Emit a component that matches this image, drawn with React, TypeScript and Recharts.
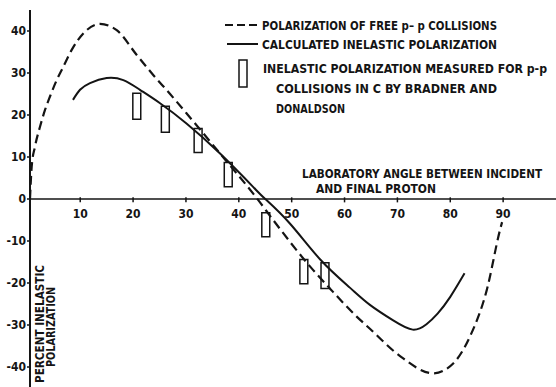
import React from 'react';
import {
  ComposedChart,
  Line,
  XAxis,
  YAxis,
  ReferenceLine,
  ReferenceArea,
  Legend,
} from 'recharts';

// polarization of free p-p collisions (dashed)
const freeAngle = [0.5, 0.82, 1.45, 2.39, 3.34, 4.28, 5.55, 6.8, 8.39, 10.58, 13.74, 16.9, 20.69, 23.5, 27, 30.1, 33.3, 36.4, 39.6, 43.4, 46.5, 53.5, 57.3, 62.3, 64.8, 70.5, 76.8, 80.6, 83.7, 86.9, 89.4, 89.8];
const freePol = [0, 7.7, 12.5, 17.2, 21.2, 24.4, 28.3, 31.5, 35.5, 39.4, 41.7, 40.2, 34.3, 30.0, 25.0, 20.4, 15.6, 10.9, 6.1, 0.2, -5.0, -16.1, -21.4, -28, -30.9, -37.4, -41.5, -39.1, -32.8, -21.7, -7.4, -5.5];

// calculated inelastic polarization (solid)
const calcAngle = [8.63, 9.96, 11.85, 15.0, 18.15, 21.3, 25.1, 30.1, 36.4, 42.7, 45.0, 49.7, 55.4, 61.0, 64.8, 69.2, 72.9, 75.5, 77.6, 80, 82.7];
const calcPol = [23.6, 26, 27.6, 28.8, 28.3, 26, 22.8, 18.0, 10.9, 2.9, 0, -5.9, -14.4, -21.1, -25.2, -28.9, -31.1, -29.8, -27.3, -23.3, -17.7];

// measured (Bradner and Donaldson) boxes
const measAngle = [20.7, 26.1, 32.3, 38.0, 45.1, 52.3, 56.3];
const measLow = [19.0, 15.9, 11.1, 2.9, -9.0, -20.2, -21.3];
const measHigh = [25.2, 22.1, 16.8, 8.7, -3.3, -14.4, -15.2];
const BOX_HALF = 0.75;

const xTicks = [10, 20, 30, 40, 50, 60, 70, 80, 90];
const yTicks = [-40, -30, -20, -10, 0, 10, 20, 30, 40];

const legendLabels = [
  'POLARIZATION OF FREE p\u2013 p  COLLISIONS',
  'CALCULATED INELASTIC POLARIZATION',
  'INELASTIC  POLARIZATION  MEASURED FOR p-p',
  'COLLISIONS IN C  BY BRADNER AND',
  'DONALDSON',
];
const xTitle = ['LABORATORY ANGLE BETWEEN INCIDENT', 'AND FINAL PROTON'];
const yTitle = ['PERCENT INELASTIC', 'POLARIZATION'];

const freeData = freeAngle.map((a, i) => ({ angle: a, pol: freePol[i] }));
const calcData = calcAngle.map((a, i) => ({ angle: a, pol: calcPol[i] }));

const INK = '#141414';
const FONT = '"DejaVu Sans Condensed", "DejaVu Sans", sans-serif';

const txt = {
  fill: INK,
  fontFamily: FONT,
  fontWeight: 'bold' as const,
  fontSize: 13,
};

const renderLegend = () => (
  <svg width={556} height={130} style={{ display: 'block' }}>
    <line x1={225} y1={25} x2={258} y2={25} stroke={INK} strokeWidth={2} strokeDasharray="8 4" />
    <text x={262} y={25} dominantBaseline="central" textLength={235} lengthAdjust="spacingAndGlyphs" {...txt}>
      {legendLabels[0]}
    </text>
    <line x1={227} y1={44} x2={258} y2={44} stroke={INK} strokeWidth={2} />
    <text x={262} y={44} dominantBaseline="central" textLength={235} lengthAdjust="spacingAndGlyphs" {...txt}>
      {legendLabels[1]}
    </text>
    <rect x={239} y={60} width={8} height={27} fill="none" stroke={INK} strokeWidth={1.5} />
    <text x={263} y={68} dominantBaseline="central" textLength={284} lengthAdjust="spacingAndGlyphs" {...txt}>
      {legendLabels[2]}
    </text>
    <text x={276} y={88} dominantBaseline="central" textLength={221} lengthAdjust="spacingAndGlyphs" {...txt}>
      {legendLabels[3]}
    </text>
    <text x={276} y={108} dominantBaseline="central" textLength={69} lengthAdjust="spacingAndGlyphs" {...txt}>
      {legendLabels[4]}
    </text>
  </svg>
);

const XTitle = (props: any) => {
  const { x, y } = props.viewBox;
  return (
    <g>
      <text x={x + 272} y={y - 26} dominantBaseline="central" textLength={240} lengthAdjust="spacingAndGlyphs" {...txt}>
        {xTitle[0]}
      </text>
      <text x={x + 286} y={y - 11} dominantBaseline="central" textLength={120} lengthAdjust="spacingAndGlyphs" {...txt}>
        {xTitle[1]}
      </text>
    </g>
  );
};

const YTitle = (props: any) => {
  const { x, y, width, height } = props.viewBox;
  const left = x + width;
  const bottom = y + height;
  const x1 = left + 9.5;
  const y1 = bottom - 4;
  const x2 = left + 20;
  const y2 = bottom - 20;
  return (
    <g>
      <text x={x1} y={y1} transform={`rotate(-90, ${x1}, ${y1})`} dominantBaseline="central" textLength={118} lengthAdjust="spacingAndGlyphs" {...txt}>
        {yTitle[0]}
      </text>
      <text x={x2} y={y2} transform={`rotate(-90, ${x2}, ${y2})`} dominantBaseline="central" textLength={80} lengthAdjust="spacingAndGlyphs" {...txt}>
        {yTitle[1]}
      </text>
    </g>
  );
};

export default function App() {
  return (
    <div style={{ width: 556, height: 387, background: '#fff' }}>
      <style>{'body{margin:0;background:#fff}'}</style>
      <ComposedChart width={556} height={387} margin={{ top: 10, right: 0, bottom: 0, left: 0 }}>
        <XAxis type="number" dataKey="angle" domain={[0.5, 100]} allowDataOverflow hide />
        <YAxis
          type="number"
          domain={[-44.76, 45]}
          allowDataOverflow
          ticks={yTicks}
          width={30}
          axisLine={{ stroke: INK, strokeWidth: 2 }}
          tickLine={{ stroke: INK, strokeWidth: 1.5 }}
          tickSize={3}
          tickMargin={1}
          tick={{ fill: INK, fontFamily: FONT, fontWeight: 'bold', fontSize: 12 }}
          label={<YTitle />}
        />
        <ReferenceLine y={0} stroke={INK} strokeWidth={1.5} label={<XTitle />} />
        {xTicks.map((t) => (
          <ReferenceLine
            key={t}
            segment={[{ x: t, y: 0.4 }, { x: t, y: -0.8 }]}
            stroke={INK}
            strokeWidth={1.5}
            label={{ value: String(t), position: 'bottom', offset: 7, fill: INK, fontFamily: FONT, fontWeight: 'bold', fontSize: 12 }}
          />
        ))}
        {measAngle.map((a, i) => (
          <ReferenceArea
            key={a}
            x1={a - BOX_HALF}
            x2={a + BOX_HALF}
            y1={measLow[i]}
            y2={measHigh[i]}
            fill="none"
            fillOpacity={0}
            stroke={INK}
            strokeWidth={1.5}
          />
        ))}
        <Line
          data={freeData}
          dataKey="pol"
          type="monotone"
          stroke={INK}
          strokeWidth={2.2}
          strokeDasharray="9 5"
          dot={false}
          isAnimationActive={false}
        />
        <Line
          data={calcData}
          dataKey="pol"
          type="natural"
          stroke={INK}
          strokeWidth={2}
          dot={false}
          isAnimationActive={false}
        />
        <Legend
          layout="horizontal"
          verticalAlign="middle"
          align="center"
          content={renderLegend}
          wrapperStyle={{ left: 0, top: 0, width: 556, height: 130 }}
        />
      </ComposedChart>
    </div>
  );
}
